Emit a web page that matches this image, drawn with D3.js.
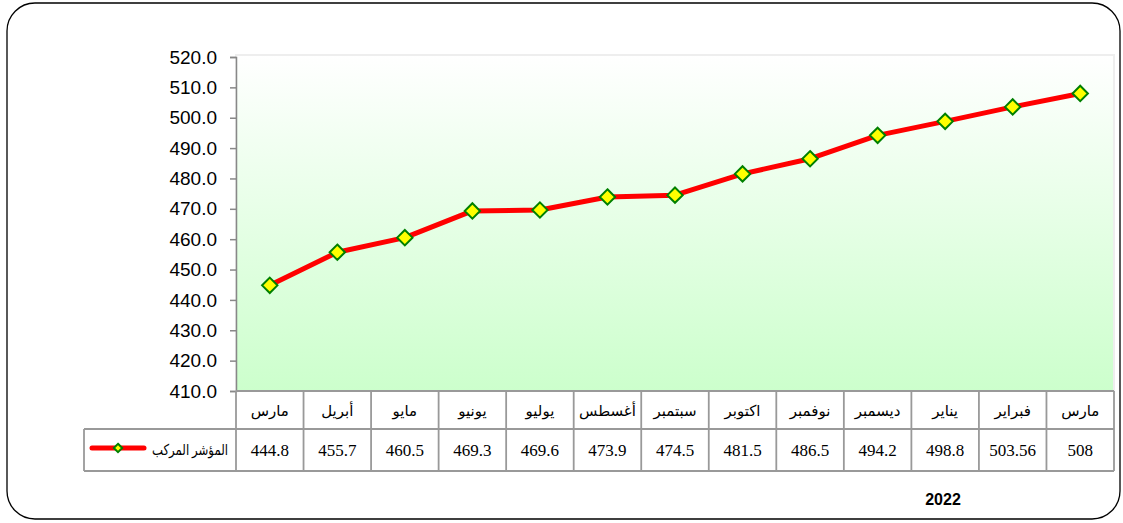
<!DOCTYPE html>
<html>
<head>
<meta charset="utf-8">
<script src="https://cdn.jsdelivr.net/npm/d3@7"></script>
<style>
  body { margin: 0; background: #fff; }
  svg { display: block; }
</style>
</head>
<body>
<div id="chart"></div>
<script>
// data
const months = ["مارس", "أبريل", "مايو", "يونيو", "يوليو", "أغسطس", "سبتمبر", "اكتوبر", "نوفمبر", "ديسمبر", "يناير", "فبراير", "مارس"];
const values = [444.8, 455.7, 460.5, 469.3, 469.6, 473.9, 474.5, 481.5, 486.5, 494.2, 498.8, 503.56, 508];
const valueLabels = ["444.8", "455.7", "460.5", "469.3", "469.6", "473.9", "474.5", "481.5", "486.5", "494.2", "498.8", "503.56", "508"];
const yTicks = [410, 420, 430, 440, 450, 460, 470, 480, 490, 500, 510, 520];
const seriesName = "المؤشر المركب";
const yearLabel = "2022";

const W = 1123, H = 523;
const plot = {left: 236, right: 1114, top: 57, bottom: 391};
const row1 = 429, row2 = 471, legendLeft = 84;

const svg = d3.select("#chart").append("svg")
    .attr("width", W)
    .attr("height", H);

// outer rounded frame
svg.append("rect")
    .attr("x", 7).attr("y", 3)
    .attr("width", 1113).attr("height", 516)
    .attr("rx", 28).attr("ry", 28)
    .attr("fill", "#fff")
    .attr("stroke", "#000")
    .attr("stroke-width", 1.3);

// plot background gradient
const grad = svg.append("defs").append("linearGradient")
    .attr("id", "bg")
    .attr("x1", 0).attr("y1", 0).attr("x2", 0).attr("y2", 1);
grad.append("stop").attr("offset", "0%").attr("stop-color", "#ffffff");
grad.append("stop").attr("offset", "100%").attr("stop-color", "#ccffcc");

svg.append("rect")
    .attr("x", plot.left).attr("y", plot.top - 2)
    .attr("width", plot.right - plot.left).attr("height", plot.bottom - plot.top + 2)
    .attr("fill", "url(#bg)")
    .attr("stroke", "#eeeeee")
    .attr("stroke-width", 2);

const x = d3.scaleBand()
    .domain(d3.range(months.length))
    .range([plot.left, plot.right]);

const y = d3.scaleLinear()
    .domain([410, 520])
    .range([plot.bottom, plot.top]);

// y axis
const yAxis = svg.append("g")
    .attr("transform", `translate(${plot.left},0)`)
    .call(d3.axisLeft(y).tickValues(yTicks).tickFormat(d3.format(".1f")).tickSize(6).tickPadding(13));
yAxis.select(".domain").attr("stroke", "#888").attr("stroke-width", 1.5);
yAxis.selectAll(".tick line").attr("stroke", "#888").attr("stroke-width", 1.5);
yAxis.selectAll(".tick text")
    .attr("fill", "#000")
    .style("font-family", "Arial, 'Liberation Sans', sans-serif")
    .style("font-size", "19px");

// data table
const grid = svg.append("g")
    .attr("stroke", "#999")
    .attr("stroke-width", 1.8)
    .attr("fill", "none");

grid.append("line").attr("x1", plot.left).attr("x2", plot.right).attr("y1", plot.bottom).attr("y2", plot.bottom);
grid.append("line").attr("x1", legendLeft).attr("x2", plot.right).attr("y1", row1).attr("y2", row1);
grid.append("line").attr("x1", legendLeft).attr("x2", plot.right).attr("y1", row2).attr("y2", row2);
grid.append("line").attr("x1", legendLeft).attr("x2", legendLeft).attr("y1", row1).attr("y2", row2);

grid.selectAll(".vline")
    .data(d3.range(months.length + 1))
    .enter().append("line")
    .attr("class", "vline")
    .attr("x1", i => i < months.length ? x(i) : plot.right)
    .attr("x2", i => i < months.length ? x(i) : plot.right)
    .attr("y1", plot.bottom)
    .attr("y2", row2);

svg.selectAll(".month")
    .data(months)
    .enter().append("text")
    .attr("class", "month")
    .attr("x", (d, i) => x(i) + x.bandwidth() / 2)
    .attr("y", 416)
    .attr("text-anchor", "middle")
    .attr("direction", "rtl")
    .style("font-family", "'Times New Roman', 'Liberation Serif', 'DejaVu Sans', serif")
    .style("font-size", "15px")
    .text(d => d);

svg.selectAll(".val")
    .data(valueLabels)
    .enter().append("text")
    .attr("class", "val")
    .attr("x", (d, i) => x(i) + x.bandwidth() / 2)
    .attr("y", 456)
    .attr("text-anchor", "middle")
    .style("font-family", "'Times New Roman', 'Liberation Serif', serif")
    .style("font-size", "17px")
    .text(d => d);

// line series
const line = d3.line()
    .x((d, i) => x(i) + x.bandwidth() / 2)
    .y(d => y(d));

svg.append("path")
    .datum(values)
    .attr("d", line)
    .attr("fill", "none")
    .attr("stroke", "#ff0000")
    .attr("stroke-width", 5)
    .attr("stroke-linejoin", "round");

const diamond = d3.symbol().type(d3.symbolDiamond2).size(150);

svg.selectAll(".marker")
    .data(values)
    .enter().append("path")
    .attr("class", "marker")
    .attr("transform", (d, i) => `translate(${x(i) + x.bandwidth() / 2},${y(d)})`)
    .attr("d", diamond)
    .attr("fill", "#ffff00")
    .attr("stroke", "#008000")
    .attr("stroke-width", 2);

// legend key
svg.append("line")
    .attr("x1", 92).attr("x2", 144)
    .attr("y1", 448).attr("y2", 448)
    .attr("stroke", "#ff0000")
    .attr("stroke-width", 5)
    .attr("stroke-linecap", "round");
svg.append("path")
    .attr("transform", "translate(118,448)")
    .attr("d", d3.symbol().type(d3.symbolDiamond2).size(45))
    .attr("fill", "#ffff00")
    .attr("stroke", "#008000")
    .attr("stroke-width", 2);
svg.append("text")
    .attr("x", 190).attr("y", 455)
    .attr("text-anchor", "middle")
    .attr("textLength", 76)
    .attr("lengthAdjust", "spacingAndGlyphs")
    .style("font-family", "'Times New Roman', 'Liberation Serif', 'DejaVu Sans', serif")
    .style("font-size", "15px")
    .text(seriesName);

// year
svg.append("text")
    .attr("x", 943).attr("y", 505)
    .attr("text-anchor", "middle")
    .style("font-family", "Arial, 'Liberation Sans', sans-serif")
    .style("font-size", "16px")
    .style("font-weight", "bold")
    .text(yearLabel);
</script>
</body>
</html>
